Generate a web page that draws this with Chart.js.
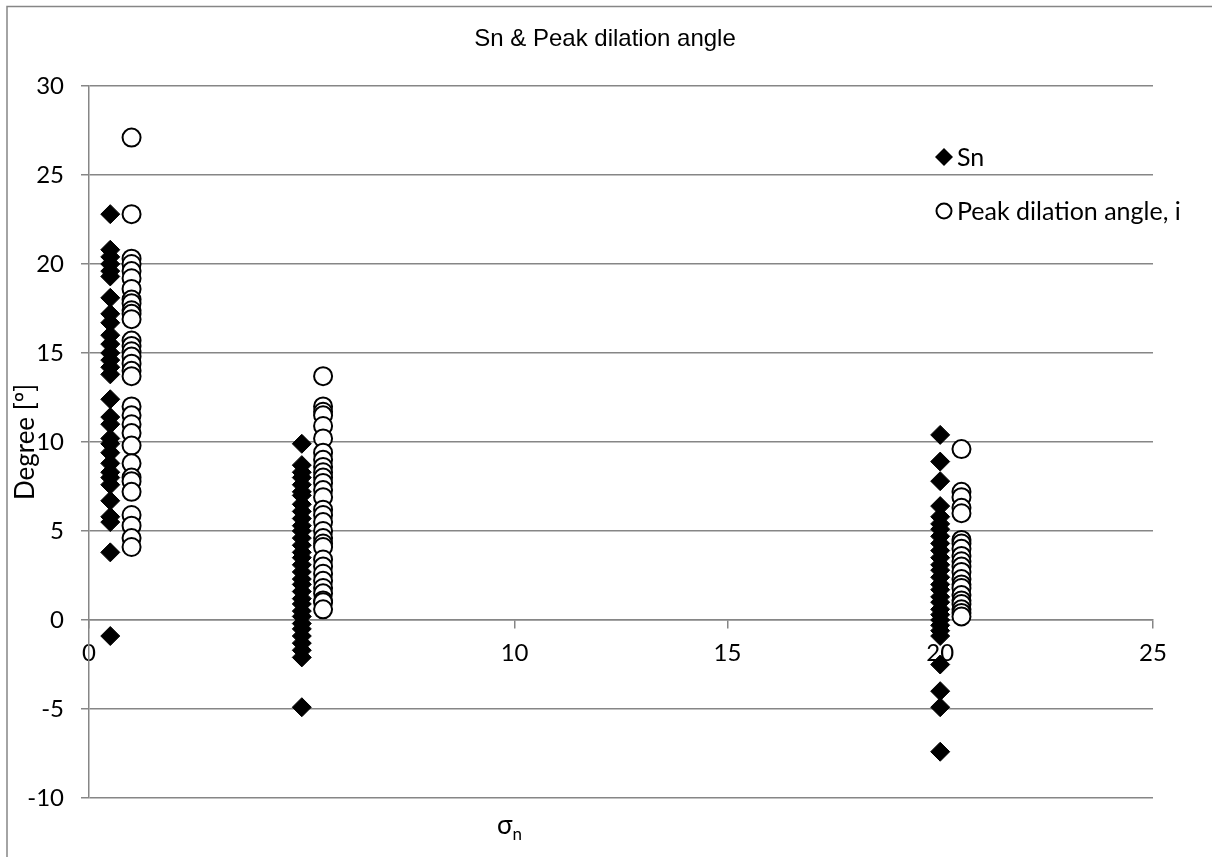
<!DOCTYPE html>
<html>
<head>
<meta charset="utf-8">
<script src="https://cdn.jsdelivr.net/npm/chart.js@4.4.1/dist/chart.umd.min.js"></script>
<style>
  html, body { margin: 0; padding: 0; background: #fff; }
  #wrap { width: 1212px; height: 857px; }
</style>
</head>
<body>
<div id="wrap"><canvas id="sheet"></canvas></div>
<script>
// sigma_n positions of each group
const snSigma = [0.5, 5, 20];
const peakSigma = [1, 5.5, 20.5];

// Sn values (degree) per sigma_n group
const snLow = [22.8, 20.8, 20.4, 20.0, 19.6, 19.3, 18.1, 17.2, 16.7, 16.0, 15.5, 15.0, 14.6, 14.2, 13.8,
  12.4, 11.4, 11.0, 10.2, 9.9, 9.4, 8.8, 8.3, 8.0, 7.6, 6.7, 5.8, 5.5, 3.8, -0.9];
const snMid = [9.9, 8.7, 8.3, 8.0, 7.6, 7.2, 7.0, 6.5, 6.1, 5.7, 5.3, 5.0, 4.6, 4.2, 3.8, 3.5, 3.1, 2.7,
  2.3, 2.0, 1.6, 1.2, 0.9, 0.5, 0.2, -0.2, -0.5, -0.9, -1.3, -1.7, -2.1, -4.9];
const snHigh = [10.4, 8.9, 7.8, 6.4, 5.8, 5.4, 5.1, 4.7, 4.3, 3.9, 3.5, 3.1, 2.8, 2.4, 2.0, 1.7, 1.3, 1.0,
  0.6, 0.3, 0.0, -0.3, -0.6, -0.9, -2.5, -4.0, -4.9, -7.4];

// Peak dilation angle values (degree)
const peakLow = [27.1, 22.8, 20.3, 20.0, 19.6, 19.2, 18.6, 18.0, 17.8, 17.4, 17.2, 16.9, 15.7, 15.4, 15.1,
  14.8, 14.4, 14.0, 13.7, 12.0, 11.5, 11.0, 10.5, 9.8, 8.8, 8.0, 7.8, 7.2, 5.9, 5.3, 4.6, 4.1];
const peakMid = [13.7, 12.0, 11.7, 11.5, 10.9, 10.2, 9.4, 9.0, 8.6, 8.3, 8.0, 7.7, 7.3, 6.9, 6.2, 5.9, 5.5,
  5.0, 4.6, 4.3, 4.1, 3.4, 3.0, 2.6, 2.2, 1.8, 1.5, 1.1, 1.0, 0.6];
const peakHigh = [9.6, 7.2, 6.9, 6.3, 6.0, 4.5, 4.3, 4.0, 3.6, 3.3, 3.0, 2.7, 2.3, 2.0, 1.8, 1.4, 1.1, 0.9,
  0.6, 0.4, 0.2];

const yTicks = [-10, -5, 0, 5, 10, 15, 20, 25, 30];
const xTicks = [0, 5, 10, 15, 20, 25];

const titleText = 'Sn & Peak dilation angle';
const legendLabels = ['Sn', 'Peak dilation angle, i'];

function toPoints(xs, groups) {
  const pts = [];
  groups.forEach((vals, gi) => {
    vals.forEach(v => pts.push({ x: xs[gi], y: v }));
  });
  return pts;
}

const labelFont = "Lato, 'Open Sans', sans-serif";
const gridGrey = '#868686';

// title, legend, axis titles and the frame are drawn by hand
const decorations = {
  id: 'decorations',
  afterDraw(chart) {
    const ctx = chart.ctx;
    const area = chart.chartArea;
    ctx.save();

    // frame (only left and top edges fall inside the picture)
    ctx.strokeStyle = gridGrey;
    ctx.lineWidth = 1.5;
    ctx.beginPath();
    ctx.moveTo(7, 857);
    ctx.lineTo(7, 6.5);
    ctx.lineTo(1212, 6.5);
    ctx.stroke();

    // title
    ctx.fillStyle = '#000';
    ctx.font = "24px 'Liberation Sans', Arial, sans-serif";
    ctx.textAlign = 'center';
    ctx.textBaseline = 'middle';
    ctx.fillText(titleText, 605, 39);

    // y axis title
    ctx.save();
    ctx.translate(26, (area.top + area.bottom) / 2);
    ctx.rotate(-Math.PI / 2);
    ctx.font = '26px ' + labelFont;
    ctx.fillText('Degree [º]', 0, 0);
    ctx.restore();

    // x axis title: sigma with subscript n
    ctx.textAlign = 'left';
    ctx.textBaseline = 'alphabetic';
    ctx.font = '26px ' + labelFont;
    ctx.fillText('σ', 497, 834);
    const sw = ctx.measureText('σ').width;
    ctx.font = '17px ' + labelFont;
    ctx.fillText('n', 497 + sw, 840);

    // legend
    const lx = 944;
    const rows = [157, 211];
    ctx.fillStyle = '#000';
    ctx.beginPath();
    ctx.moveTo(lx - 9, rows[0]);
    ctx.lineTo(lx, rows[0] - 9);
    ctx.lineTo(lx + 9, rows[0]);
    ctx.lineTo(lx, rows[0] + 9);
    ctx.closePath();
    ctx.fill();
    ctx.beginPath();
    ctx.arc(lx, rows[1], 7.5, 0, Math.PI * 2);
    ctx.fillStyle = '#fff';
    ctx.fill();
    ctx.lineWidth = 2;
    ctx.strokeStyle = '#000';
    ctx.stroke();
    ctx.fillStyle = '#000';
    ctx.font = '25px ' + labelFont;
    ctx.textBaseline = 'middle';
    ctx.fillText(legendLabels[0], 957, rows[0] + 1);
    ctx.fillText(legendLabels[1], 957, rows[1] + 1);

    ctx.restore();
  }
};

new Chart(document.getElementById('sheet'), {
  type: 'scatter',
  data: {
    datasets: [
      {
        label: legendLabels[0],
        data: toPoints(snSigma, [snLow, snMid, snHigh]),
        pointStyle: 'rectRot',
        pointRadius: 9.5,
        pointHoverRadius: 9.5,
        backgroundColor: '#000',
        borderColor: '#000',
        borderWidth: 1
      },
      {
        label: legendLabels[1],
        data: toPoints(peakSigma, [peakLow, peakMid, peakHigh]),
        pointStyle: 'circle',
        pointRadius: 9,
        pointHoverRadius: 9,
        backgroundColor: '#fff',
        borderColor: '#000',
        borderWidth: 2
      }
    ]
  },
  options: {
    responsive: true,
    maintainAspectRatio: false,
    animation: false,
    events: [],
    layout: { padding: { left: 0, top: 86, right: 59, bottom: 59 } },
    plugins: {
      legend: { display: false },
      title: { display: false },
      tooltip: { enabled: false }
    },
    scales: {
      x: {
        type: 'linear',
        position: { y: 0 },
        min: 0,
        max: 25,
        afterFit(scale) { scale.height = 0; },
        afterBuildTicks(scale) { scale.ticks = xTicks.map(v => ({ value: v })); },
        grid: {
          drawOnChartArea: false,
          drawTicks: true,
          tickLength: 8,
          color: gridGrey,
          lineWidth: 1.5
        },
        border: { display: true, color: gridGrey, width: 1.5 },
        ticks: {
          color: '#000',
          padding: 11,
          maxRotation: 0,
          font: { family: labelFont, size: 24 }
        }
      },
      y: {
        type: 'linear',
        position: 'left',
        min: -10,
        max: 30,
        afterFit(scale) { scale.width = 89; },
        afterBuildTicks(scale) { scale.ticks = yTicks.map(v => ({ value: v })); },
        grid: {
          color: gridGrey,
          lineWidth: 1.5,
          drawTicks: true,
          tickLength: 8
        },
        border: { display: true, color: gridGrey, width: 1.5 },
        ticks: {
          color: '#000',
          padding: 17,
          font: { family: labelFont, size: 24 }
        }
      }
    }
  },
  plugins: [decorations]
});
</script>
</body>
</html>
